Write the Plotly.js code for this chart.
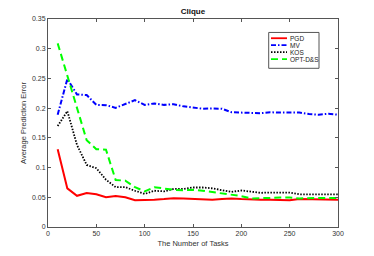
<!DOCTYPE html>
<html>
<head>
<meta charset="utf-8">
<script src="https://cdn.plot.ly/plotly-3.0.1.min.js"></script>
<style>html,body{margin:0;padding:0;background:#fff;}#chart{width:374px;height:256px;}</style>
</head>
<body>
<div id="chart"></div>
<script>
const tasks = [10,20,30,40,50,60,70,80,90,100,110,120,130,140,150,160,170,180,190,200,210,220,230,240,250,260,270,280,290,300];
const pgd = [0.131,0.065,0.0525,0.057,0.055,0.050,0.052,0.050,0.045,0.045,0.046,0.047,0.0485,0.048,0.0475,0.046,0.046,0.047,0.048,0.047,0.046,0.046,0.046,0.045,0.045,0.047,0.047,0.046,0.046,0.046];
const mv = [0.189,0.249,0.223,0.222,0.2055,0.205,0.2005,0.2067,0.2134,0.2055,0.208,0.2055,0.2067,0.203,0.201,0.199,0.1995,0.199,0.193,0.192,0.192,0.1915,0.193,0.1925,0.192,0.1925,0.190,0.189,0.1905,0.189];
const kos = [0.170,0.195,0.138,0.1045,0.099,0.0795,0.067,0.067,0.061,0.0557,0.061,0.060,0.064,0.064,0.0665,0.0665,0.065,0.0615,0.059,0.0615,0.060,0.0575,0.058,0.058,0.058,0.055,0.055,0.055,0.055,0.055];
const opt = [0.309,0.255,0.202,0.146,0.131,0.130,0.079,0.078,0.067,0.060,0.067,0.065,0.0626,0.062,0.0626,0.061,0.0587,0.057,0.0547,0.052,0.048,0.048,0.049,0.0497,0.0497,0.048,0.049,0.049,0.049,0.049];
const seriesNames = ['PGD','MV','KOS','OPT-D&S'];
const xTicks = [0,50,100,150,200,250,300];
const yTicks = [0,0.05,0.1,0.15,0.2,0.25,0.3,0.35];
const yTickText = ['0','0.05','0.1','0.15','0.2','0.25','0.3','0.35'];

const styles = [
  {color: '#ff0000', width: 2, dash: 'solid'},
  {color: '#0000ff', width: 2, dash: '5px,2px,1.5px,2px'},
  {color: '#000000', width: 1.8, dash: '1.5px,1.5px'},
  {color: '#00ff00', width: 2, dash: '7px,4px'}
];
const values = [pgd, mv, kos, opt];
const traces = values.map((v, i) => ({x: tasks, y: v, name: seriesNames[i], mode: 'lines', line: styles[i], showlegend: false}));

// plot-area geometry in pixels (for the hand-built legend)
const W = 374, H = 256, L = 48, R = 36, T = 18.5, B = 28.7;
const pw = W - L - R, ph = H - T - B;
const px = x => (x - L) / pw;
const py = y => (H - B - y) / ph;

const shapes = [{type: 'rect', xref: 'paper', yref: 'paper', x0: px(268.7), x1: px(319), y0: py(68), y1: py(32),
  line: {color: '#555', width: 1}, fillcolor: '#fff', layer: 'above'}];
const annotations = [];
const rowY = [37.8, 44.8, 51.8, 58.8];
seriesNames.forEach((n, i) => {
  shapes.push({type: 'line', xref: 'paper', yref: 'paper', x0: px(271), x1: px(287), y0: py(rowY[i]), y1: py(rowY[i]),
    line: {color: styles[i].color, width: 1.8, dash: styles[i].dash}, layer: 'above'});
  annotations.push({xref: 'paper', yref: 'paper', x: px(288), y: py(rowY[i]), xanchor: 'left', yanchor: 'middle',
    text: n, showarrow: false, font: {size: 6.5, color: '#222'}});
});

const axisCommon = {
  showgrid: false, zeroline: false, showline: true, mirror: 'allticks',
  linecolor: '#555', linewidth: 1, ticks: 'inside', ticklen: 3, tickcolor: '#555',
  tickfont: {size: 7, color: '#333', family: 'Liberation Sans, Arial, sans-serif'}
};
const layout = {
  width: W, height: H,
  margin: {l: L, r: R, t: T, b: B, pad: 0},
  paper_bgcolor: '#fff', plot_bgcolor: '#fff',
  font: {family: 'Liberation Sans, Arial, sans-serif', color: '#333'},
  title: {text: '<b>Clique</b>', font: {size: 8, color: '#111'}, x: 0.516, xanchor: 'center', y: 1 - 11.5/256, yanchor: 'middle', yref: 'container'},
  xaxis: Object.assign({}, axisCommon, {range: [0, 300], tickvals: xTicks, ticktext: xTicks.map(String),
    title: {text: 'The Number of Tasks', font: {size: 7.5, color: '#333'}, standoff: 4}}),
  yaxis: Object.assign({}, axisCommon, {range: [0, 0.35], tickvals: yTicks, ticktext: yTickText,
    title: {text: 'Average Prediction Error', font: {size: 7.5, color: '#333'}, standoff: 4}}),
  shapes: shapes,
  annotations: annotations,
  showlegend: false
};
Plotly.newPlot('chart', traces, layout, {staticPlot: true, displayModeBar: false});
</script>
</body>
</html>
